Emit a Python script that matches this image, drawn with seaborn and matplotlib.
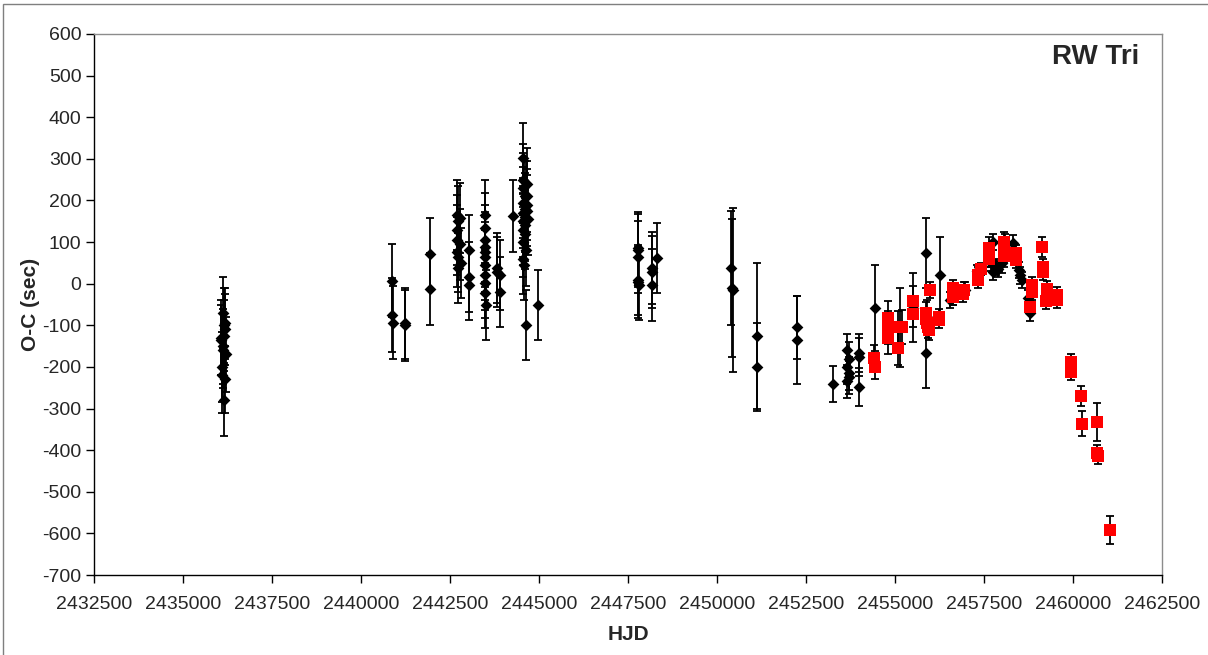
import numpy as np
import pandas as pd
import matplotlib
matplotlib.use("Agg")
import matplotlib.pyplot as plt
from matplotlib.ticker import FuncFormatter
from matplotlib.patches import Rectangle
import seaborn as sns

# ---------------- data ----------------
black_x = [
    2436060, 2436080, 2436090, 2436100, 2436110, 2436120, 2436130, 2436140,
    2436150, 2436160, 2436170, 2436180, 2436190, 2436200,
    2440870, 2440880, 2440890,
    2441236, 2441250,
    2441938, 2441930,
    2442700, 2442700, 2442710, 2442710, 2442720, 2442720, 2442730,
    2442780, 2442790, 2442800,
    2443035, 2443040, 2443045,
    2443470, 2443475, 2443480, 2443485, 2443490, 2443495, 2443480, 2443485,
    2443490, 2443495, 2443500,
    2443820, 2443830, 2443905, 2443910,
    2444270,
    2444540, 2444545, 2444550, 2444555, 2444560, 2444550, 2444545, 2444555,
    2444560, 2444565,
    2444600, 2444605, 2444610, 2444615, 2444620, 2444625,
    2444660, 2444665, 2444670, 2444675, 2444680,
    2444635, 2444970,
    2447770, 2447775, 2447780, 2447785, 2447790, 2447795,
    2448175, 2448180, 2448185, 2448315,
    2450400, 2450420, 2450440,
    2451125, 2451130,
    2452240, 2452260,
    2453260,
    2453650, 2453655, 2453660, 2453710, 2453715, 2453720,
    2453990, 2453995, 2454000,
    2454440, 2455150, 2455505, 2455870, 2455875, 2455900, 2456265,
    2456545, 2456630, 2456970, 2457300, 2457640, 2457700, 2457750, 2457755,
    2457850, 2457900, 2458005, 2458100, 2458110, 2458315, 2458485, 2458500,
    2458570, 2458735, 2458790,
]
black_y = [
    -135, -130, -200, -220, -150, -160, -70, -125,
    -280, -100, -110, -95, -230, -170,
    7, -75, -94,
    -95, -100,
    71, -13,
    165, 129, 105, 76, 64, 38, 150,
    158, 95, 50,
    81, 16, -3,
    165, 134, 105, 88, 76, 64, 45, 21,
    2, -22, -51,
    38, 28, 21, -20,
    163,
    302, 250, 230, 195, 170, 150, 130, 100,
    60, 45,
    210, 180, 160, 140, 120, 80,
    240, 210, 190, 175, 155,
    -99, -51,
    85, 80, 64, 9, 3, -3,
    38, 28, -3, 62,
    38, -10, -15,
    -125, -200,
    -105, -135,
    -241,
    -160, -200, -235, -180, -215, -225,
    -167, -176, -248,
    -58, -105, -58, 74, -166, -80, 21,
    -39, -30, -15, 30, 60, 50, 100, 28,
    40, 35, 50, 95, 85, 98, 33, 20,
    9, -34, -70,
]
black_err = [
    85, 90, 85, 90, 90, 90, 85, 85,
    85, 90, 85, 85, 80, 90,
    88, 88, 88,
    85, 85,
    87, 87,
    85, 85, 85, 85, 85, 85, 85,
    85, 85, 85,
    85, 85, 85,
    85, 85, 85, 85, 85, 85, 85, 85,
    85, 85, 85,
    85, 85, 85, 85,
    87,
    83, 85, 85, 85, 85, 85, 85, 85,
    85, 85,
    85, 85, 85, 85, 85, 85,
    85, 85, 85, 85, 85,
    85, 85,
    87, 87, 87, 85, 85, 85,
    87, 87, 87, 85,
    137, 165, 198,
    175, 105,
    75, 105,
    43,
    40, 40, 40, 40, 40, 40,
    45, 45, 45,
    103, 95, 83, 85, 85, 40, 90,
    20, 20, 20, 15, 20, 20, 20, 20,
    20, 20, 25, 25, 25, 20, 20, 20,
    20, 20, 20,
]

red_x = [
    2454410, 2454440,
    2454800, 2454800, 2454800,
    2455085, 2455085, 2455200,
    2455505, 2455505,
    2455870, 2455880, 2455900, 2455920, 2455950,
    2455985,
    2456235, 2456235,
    2456630, 2456630,
    2456910, 2456950,
    2457330, 2457330, 2457415,
    2457640, 2457640,
    2458060, 2458060, 2458060, 2458060,
    2458400, 2458400,
    2458790, 2458850, 2458850,
    2459130, 2459160, 2459160,
    2459240, 2459270,
    2459550, 2459550,
    2459945, 2459945,
    2460225, 2460255,
    2460675, 2460675, 2460690,
    2461040,
]
red_y = [
    -178, -200,
    -82, -106, -130,
    -155, -105, -104,
    -41, -73,
    -70, -85, -95, -105, -111,
    -15,
    -80, -87,
    -10, -32,
    -25, -15,
    21, 9, 35,
    86, 59,
    100, 88, 76, 66,
    74, 57,
    -56, -3, -20,
    88, 40, 28,
    -42, -13,
    -27, -39,
    -188, -212,
    -270, -337,
    -332, -407, -414,
    -592,
]
red_err = [
    30, 30,
    40, 40, 40,
    40, 40, 40,
    35, 30,
    25, 25, 25, 25, 25,
    20,
    20, 20,
    20, 20,
    20, 20,
    20, 20, 15,
    25, 20,
    25, 25, 25, 25,
    20, 20,
    15, 20, 20,
    24, 20, 20,
    20, 20,
    20, 20,
    20, 20,
    25, 30,
    45, 20, 20,
    33,
]

x_ticks = list(range(2432500, 2462501, 2500))
y_ticks = list(range(-700, 601, 100))
title_text = "RW Tri"
x_label = "HJD"
y_label = "O-C (sec)"

black_df = pd.DataFrame({"HJD": black_x, "OC": black_y, "err": black_err})
red_df = pd.DataFrame({"HJD": red_x, "OC": red_y, "err": red_err})

# ---------------- figure ----------------
sns.set_theme(style="white")
plt.rcParams["font.family"] = ["Liberation Sans", "DejaVu Sans"]

fig = plt.figure(figsize=(12.08, 6.55), dpi=100)
ax = fig.add_axes([94 / 1208, 1 - 575 / 655, 1068 / 1208, 541 / 655])

# error bars
for df in (black_df, red_df):
    ax.errorbar(df["HJD"], df["OC"], yerr=df["err"], fmt="none",
                ecolor="black", elinewidth=1.3, capsize=3.2, capthick=1.3,
                zorder=2)

sns.scatterplot(data=black_df, x="HJD", y="OC", marker="D", color="black",
                s=36, linewidth=0, ax=ax, zorder=3)
sns.scatterplot(data=red_df, x="HJD", y="OC", marker="s", color="#FF0000",
                s=72, linewidth=0, ax=ax, zorder=4)

ax.set_xlim(x_ticks[0], x_ticks[-1])
ax.set_ylim(y_ticks[0], y_ticks[-1])
ax.set_xticks(x_ticks)
ax.set_yticks(y_ticks)
ax.xaxis.set_major_formatter(FuncFormatter(lambda v, p: f"{int(round(v))}"))
ax.yaxis.set_major_formatter(FuncFormatter(lambda v, p: f"{int(round(v))}"))
ax.tick_params(axis="both", which="major", direction="out", length=6,
               width=1, color="black", labelsize=14, pad=3,
               bottom=True, left=True, top=False, right=False)
ax.tick_params(axis="x", pad=9)

for side in ("left", "bottom"):
    ax.spines[side].set_color("#000000")
    ax.spines[side].set_linewidth(1.0)
for side in ("top", "right"):
    ax.spines[side].set_color("#8c8c8c")
    ax.spines[side].set_linewidth(1.0)

ax.set_xlabel(x_label, fontsize=15, fontweight="bold")
ax.set_ylabel(y_label, fontsize=15, fontweight="bold")
ax.xaxis.set_label_coords(0.5, -0.093)
ax.yaxis.set_label_coords(-0.051, 0.5)

ax.text(0.979, 0.957, title_text, transform=ax.transAxes, ha="right",
        va="center", fontsize=20, fontweight="bold")

# outer chart frame
fig.patches.append(Rectangle((3 / 1208, -0.01), 1.2, 1 - 4 / 655 + 0.01,
                             transform=fig.transFigure, fill=False,
                             edgecolor="#7f7f7f", linewidth=1.0))

fig.savefig("out.png", dpi=100)
